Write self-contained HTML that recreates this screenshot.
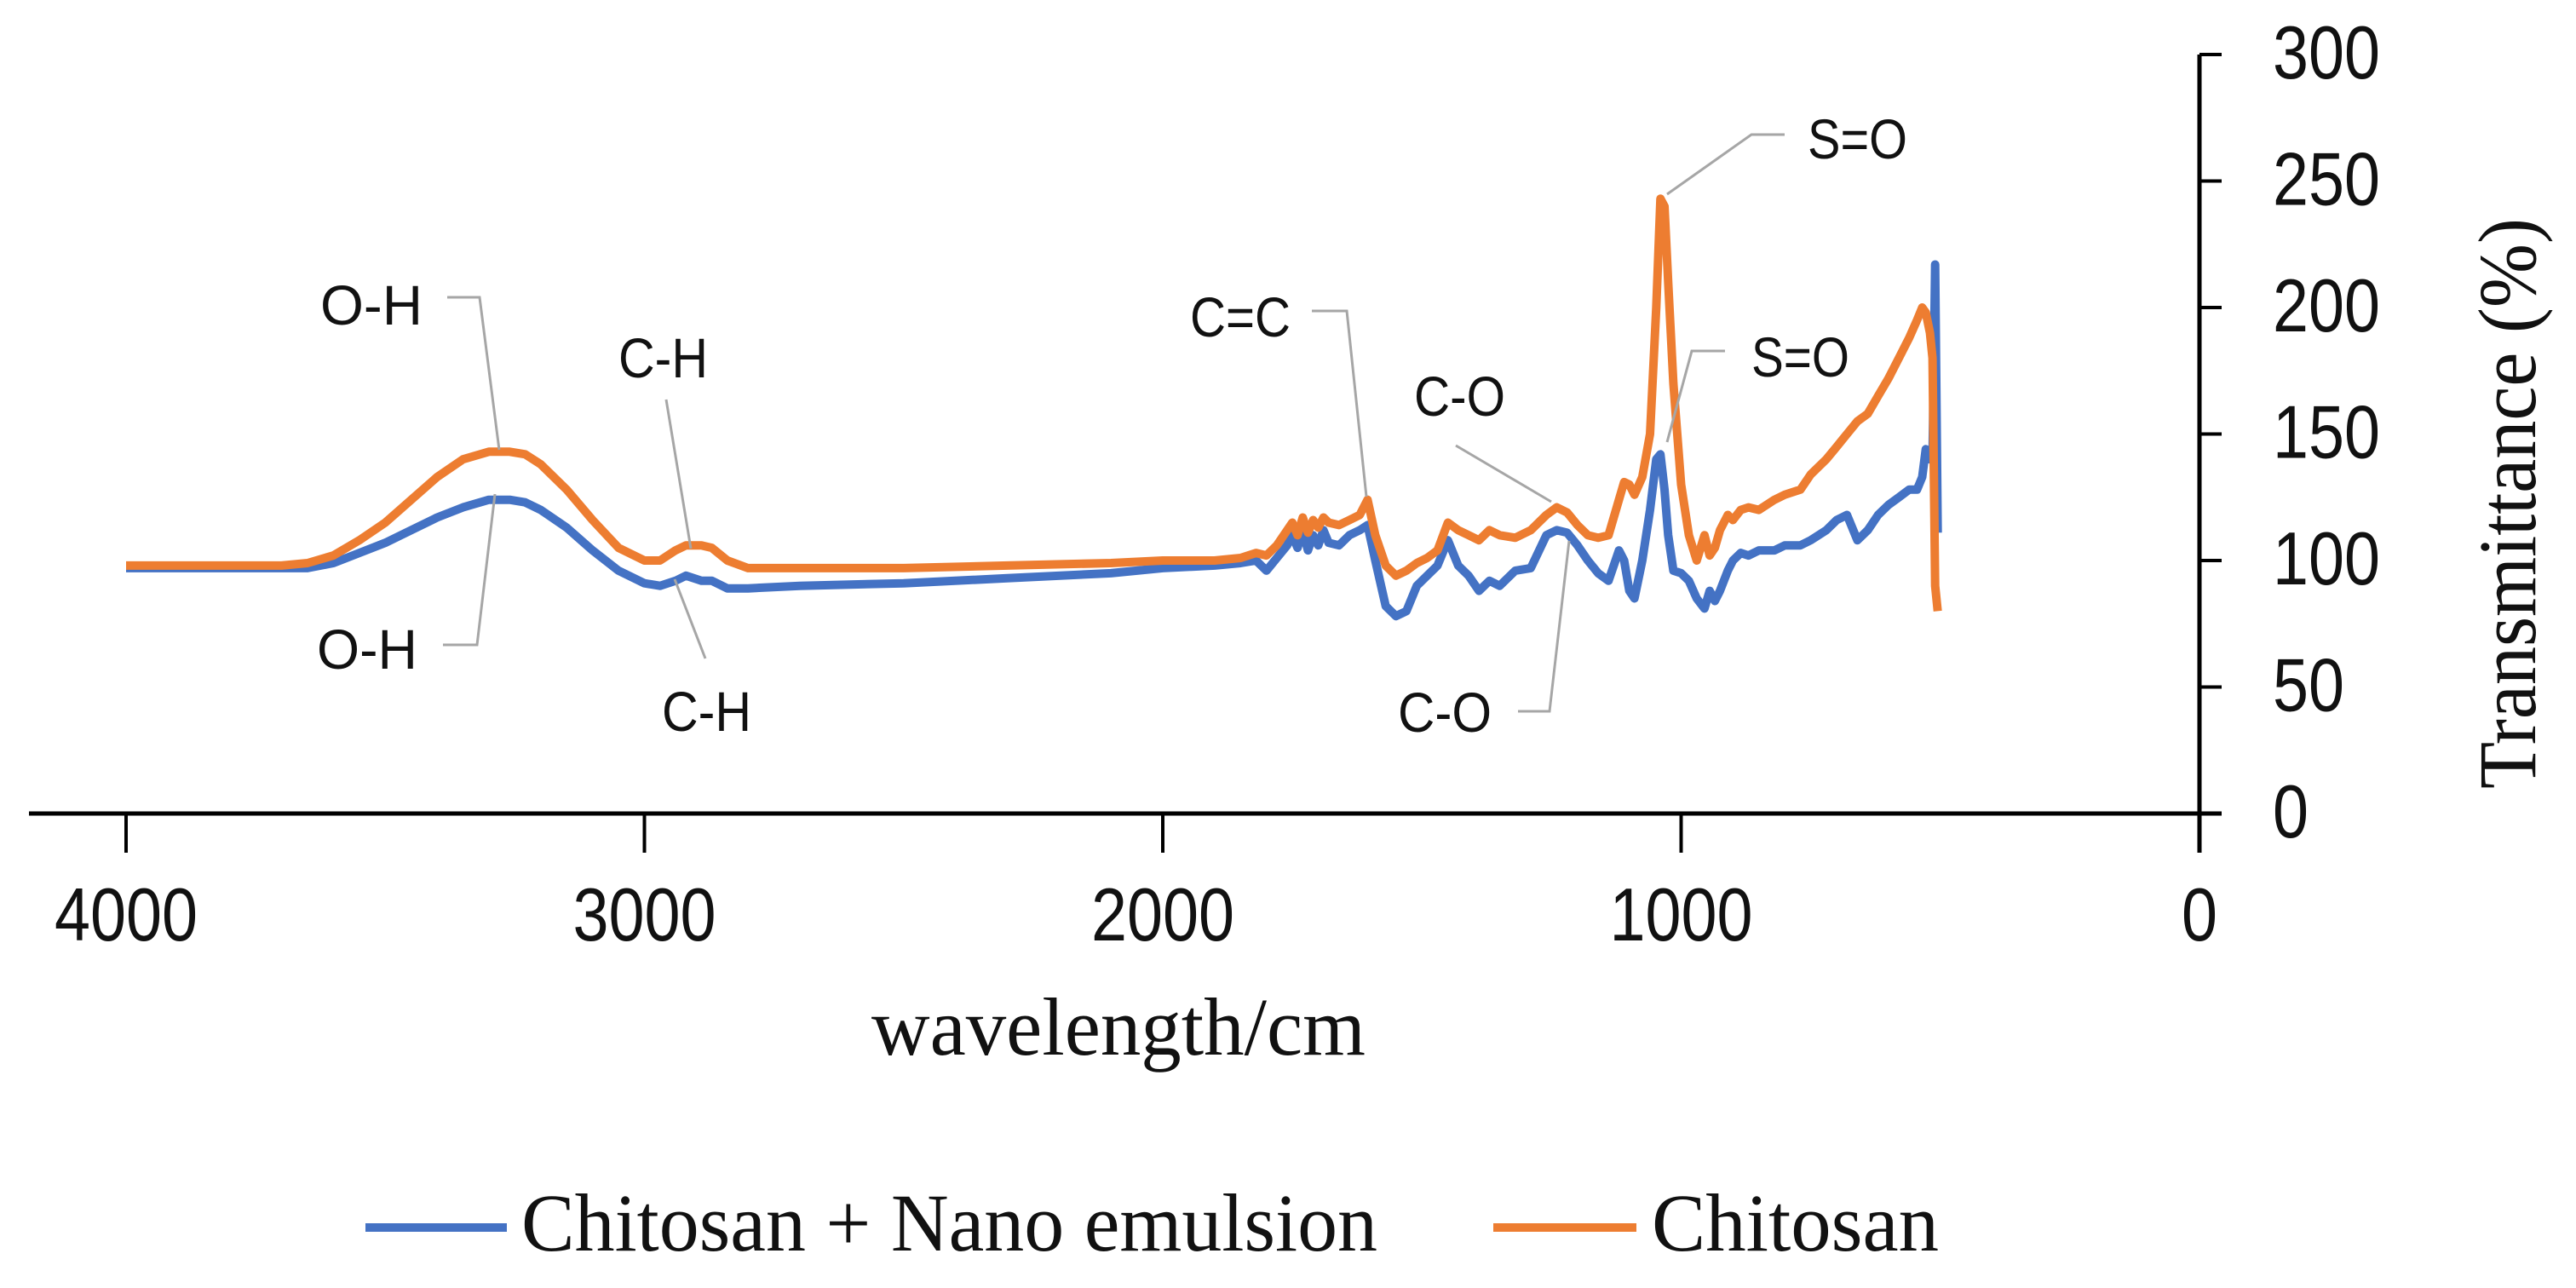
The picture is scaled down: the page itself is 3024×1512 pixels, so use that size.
<!DOCTYPE html>
<html><head><meta charset="utf-8">
<style>
html,body{margin:0;padding:0;background:#fff;}
svg{display:block;}
.tick{font-family:"Liberation Sans",sans-serif;font-size:88px;fill:#111;}
.ann{font-family:"Liberation Sans",sans-serif;font-size:66px;fill:#111;}
.serif{font-family:"Liberation Serif",serif;font-size:96px;fill:#111;}
</style></head>
<body>
<svg id="chart" width="3024" height="1512" viewBox="0 0 3024 1512" xmlns="http://www.w3.org/2000/svg">
<g id="axes"></g>
<g id="series"></g>
<g id="annotations">
  <g stroke="#A6A6A6" stroke-width="3" fill="none">
    <polyline points="525,349 563,349 586,528"/>
    <polyline points="520,757 560,757 581,580"/>
    <polyline points="782,469 811,644"/>
    <polyline points="828,773 792,680"/>
    <polyline points="1540,365 1581,365 1604,583"/>
    <polyline points="1709,523 1821,589"/>
    <polyline points="1782,835 1819,835 1842,635"/>
    <polyline points="2095,158 2056,158 1957,228"/>
    <polyline points="2025,412 1986,412 1957,519"/>
  </g>
  <text class="ann" x="376" y="381" textLength="120" lengthAdjust="spacingAndGlyphs">O-H</text>
  <text class="ann" x="372" y="785" textLength="118" lengthAdjust="spacingAndGlyphs">O-H</text>
  <text class="ann" x="726" y="443" textLength="105" lengthAdjust="spacingAndGlyphs">C-H</text>
  <text class="ann" x="777" y="858" textLength="105" lengthAdjust="spacingAndGlyphs">C-H</text>
  <text class="ann" x="1397" y="395" textLength="118" lengthAdjust="spacingAndGlyphs">C=C</text>
  <text class="ann" x="1660" y="488" textLength="107" lengthAdjust="spacingAndGlyphs">C-O</text>
  <text class="ann" x="1641" y="859" textLength="110" lengthAdjust="spacingAndGlyphs">C-O</text>
  <text class="ann" x="2122" y="186" textLength="117" lengthAdjust="spacingAndGlyphs">S=O</text>
  <text class="ann" x="2056" y="442" textLength="115" lengthAdjust="spacingAndGlyphs">S=O</text>
</g>
<text class="serif" x="1023" y="1238" textLength="580" lengthAdjust="spacingAndGlyphs">wavelength/cm</text>
<text class="serif" transform="translate(2976,926) rotate(-90)" x="0" y="0" textLength="670" lengthAdjust="spacingAndGlyphs">Transmittance (%)</text>
<g>
  <g>
    <line x1="429" y1="1441" x2="595" y2="1441" stroke="#4472C4" stroke-width="10"/>
    <text class="serif" x="612" y="1468" textLength="1005" lengthAdjust="spacingAndGlyphs">Chitosan + Nano emulsion</text>
  </g>
  <g>
    <line x1="1753" y1="1441" x2="1921" y2="1441" stroke="#ED7D31" stroke-width="10"/>
    <text class="serif" x="1939" y="1468" textLength="337" lengthAdjust="spacingAndGlyphs">Chitosan</text>
  </g>
</g>
</svg>
<script>
const wavenumbers = [4000,3800,3700,3650,3600,3550,3500,3450,3400,3350,3300,3260,3230,3200,3150,3100,3050,3000,2970,2940,2920,2890,2870,2840,2800,2700,2500,2300,2100,2000,1900,1850,1820,1800,1780,1760,1750,1740,1730,1720,1710,1700,1690,1680,1660,1640,1620,1605,1590,1570,1550,1530,1510,1490,1470,1450,1430,1410,1390,1370,1350,1320,1290,1260,1240,1220,1200,1180,1160,1140,1120,1110,1100,1090,1075,1060,1048,1040,1032,1025,1015,1000,985,970,955,945,935,925,910,900,885,870,850,820,800,770,750,720,700,680,660,640,620,600,580,560,545,535,528,520,515,510,505];
const chitosan = [98,98,98,99,102,108,115,124,133,140,143,143,142,138,128,116,105,100,100,104,106,106,105,100,97,97,97,98,99,100,100,101,103,102,106,112,115,110,117,111,116,113,117,115,114,116,118,124,110,98,94,96,99,101,104,115,112,110,108,112,110,109,112,118,121,119,114,110,109,110,124,131,130,126,133,150,200,243,240,210,170,130,110,100,110,102,105,112,118,116,120,121,120,124,126,128,134,140,145,150,155,158,165,172,180,188,195,200,198,190,180,90,80];
const chitosanNano = [97,97,97,97,99,103,107,112,117,121,124,124,123,120,113,104,96,91,90,92,94,92,92,89,89,90,91,93,95,97,98,99,100,96,101,106,110,105,112,104,110,106,112,107,106,110,112,114,100,82,78,80,90,94,98,108,98,94,88,92,90,96,97,110,112,111,106,100,95,92,104,100,88,85,100,120,140,142,128,110,96,95,92,85,81,88,84,88,96,100,103,102,104,104,106,106,108,112,116,118,108,112,118,122,125,128,128,133,144,140,140,217,111];
const xTicks = [4000,3000,2000,1000,0];
const yTicks = [0,50,100,150,200,250,300];

const NS = "http://www.w3.org/2000/svg";
const X0 = 2582, XPER = 0.6085, Y0 = 955, YMAX = 64;
function xs(w){ return X0 - w*XPER; }
function ys(v){ return Y0 - v*(Y0-YMAX)/300; }
function mk(tag, attrs, parent){ const e=document.createElementNS(NS,tag); for(const k in attrs) e.setAttribute(k,attrs[k]); parent.appendChild(e); return e; }

const axes = document.getElementById('axes');
const xl = mk('line',{x1:34,y1:Y0,x2:2608,y2:Y0,stroke:'#000','stroke-width':5},axes);


const yl = mk('line',{x1:X0,y1:ys(300),x2:X0,y2:Y0+46,stroke:'#000','stroke-width':5},axes);


xTicks.forEach(t=>{
  const tk = mk('line',{x1:xs(t),y1:Y0,x2:xs(t),y2:Y0+46,stroke:'#000','stroke-width':4},axes);
  
  
  const s = String(t);
  const tx = mk('text',{x:xs(t),y:1104,'text-anchor':'middle',class:'tick',textLength:42*s.length,lengthAdjust:'spacingAndGlyphs'},axes);
  tx.textContent = s;
  
  
});
yTicks.forEach(t=>{
  const tk = mk('line',{x1:X0,y1:ys(t),x2:X0+26,y2:ys(t),stroke:'#000','stroke-width':4},axes);
  
  
  const s = String(t);
  const tx = mk('text',{x:2668,y:ys(t)+28,class:'tick',textLength:42*s.length,lengthAdjust:'spacingAndGlyphs'},axes);
  tx.textContent = s;
  
  
});

const sg = document.getElementById('series');
function line(vals, color, name){
  const pts = wavenumbers.map((w,i)=>xs(w).toFixed(1)+','+ys(vals[i]).toFixed(1)).join(' ');
  const p = mk('polyline',{points:pts,fill:'none',stroke:color,'stroke-width':10,'stroke-linejoin':'round'},sg);
  
  
}
line(chitosanNano,'#4472C4','series-chitosan-nano-emulsion');
line(chitosan,'#ED7D31','series-chitosan');
</script>
</body></html>
